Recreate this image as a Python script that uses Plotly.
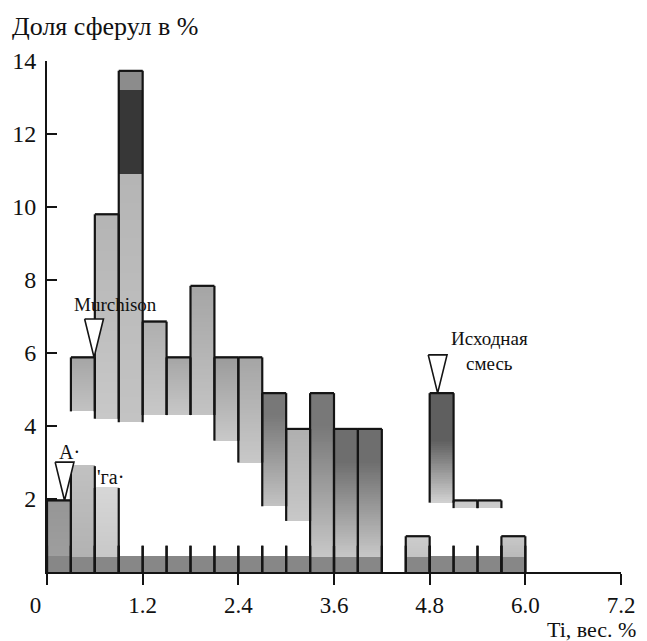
import plotly.graph_objects as go

# ---------------- data ----------------
bin_left = [0.0, 0.3, 0.6, 0.9, 1.2, 1.5, 1.8, 2.1, 2.4, 2.7,
            3.0, 3.3, 3.6, 3.9, 4.2, 4.5, 4.8, 5.1, 5.4, 5.7]
share_pct = [1.96, 5.88, 9.80, 13.73, 6.86, 5.88, 7.84, 5.88, 5.88, 4.90,
             3.92, 4.90, 3.92, 3.92, 0.0, 0.98, 4.90, 1.96, 1.96, 0.98]
bin_width = 0.3

x_tick_vals = [0, 1.2, 2.4, 3.6, 4.8, 6.0, 7.2]
x_tick_text = ["0\u2007\u2007", "1.2", "2.4", "3.6", "4.8", "6.0", "7.2"]
y_tick_vals = [2, 4, 6, 8, 10, 12, 14]

pointer_x = [0.22, 0.59, 4.90]
pointer_y = [1.96, 5.88, 4.90]

# ---------------- style (shading of the scanned bars) ----------------
fade_level = [0.0, 4.4, 4.2, 4.1, 4.3, 4.3, 4.3, 3.6, 3.0, 1.8,
              1.4, 0.4, 0.4, 0.4, 0.0, 0.4, 1.9, 1.75, 1.75, 0.4]
top_gray = [150, 165, 180, 175, 175, 165, 165, 155, 165, 120,
            175, 120, 110, 110, 255, 205, 95, 200, 200, 200]
low_gray = [160, 195, 200, 195, 200, 200, 195, 200, 200, 195,
            200, 200, 200, 200, 255, 195, 210, 205, 205, 185]
hold_depth = [0, 0, 0, 0, 0, 0, 0, 0, 0, 0.6,
              0, 0.9, 0.9, 0.9, 0, 0, 1.3, 0, 0, 0]
lower_top = [0, 2.9, 2.3, 0, 0, 0, 0, 0, 0, 0, 0, 0, 0, 0, 0, 0, 0, 0, 0, 0]
lower_gray = [0, 178, 200, 0, 0, 0, 0, 0, 0, 0, 0, 0, 0, 0, 0, 0, 0, 0, 0, 0]
overlay_bin = [3, 3]
overlay_lo = [10.9, 13.2]
overlay_hi = [13.2, 13.73]
overlay_gray = [55, 140]
band_top = 0.4
band_gray = 135
divider_top = 0.72

FONT = "Liberation Serif"
STEP = 0.05


def g(v):
    v = int(round(max(0, min(255, v))))
    return f"rgb({v},{v},{v})"


xs, bs, hs, cs = [], [], [], []


def add_seg(i, y0, y1, col):
    xs.append(bin_left[i] + bin_width / 2)
    bs.append(y0)
    hs.append(y1 - y0 + 0.03)
    cs.append(col)


for i, top in enumerate(share_pct):
    if top <= 0:
        continue
    add_seg(i, 0, min(band_top, top), g(band_gray))
    if lower_top[i] > 0:
        y = band_top
        while y < lower_top[i] - 1e-9:
            y1 = min(y + STEP, lower_top[i])
            t = (y - band_top) / (lower_top[i] - band_top)
            add_seg(i, y, y1, g(lower_gray[i] + 15 * t))
            y = y1
    lo = fade_level[i]
    hold_lvl = top - hold_depth[i]
    y = lo
    while y < top - 1e-9:
        y1 = min(y + STEP, top)
        mid = (y + y1) / 2
        if mid >= hold_lvl or hold_lvl <= lo:
            t = 0.0
        else:
            t = (hold_lvl - mid) / (hold_lvl - lo)
        add_seg(i, y, y1, g(top_gray[i] + (low_gray[i] - top_gray[i]) * t))
        y = y1
    if i == 0:
        add_seg(i, 0, band_top, g(band_gray))

for k, i in enumerate(overlay_bin):
    add_seg(i, overlay_lo[k], overlay_hi[k] - 0.03, g(overlay_gray[k]))

fig = go.Figure()
fig.add_trace(go.Bar(
    x=xs, y=hs, base=bs, width=bin_width,
    marker=dict(color=cs, line=dict(width=0)),
    hoverinfo="skip", showlegend=False,
))

# outlines
ox, oy = [], []
for i, top in enumerate(share_pct):
    if top <= 0:
        continue
    l, r = bin_left[i], bin_left[i] + bin_width
    ox += [l, r, None]
    oy += [top, top, None]
    lo = fade_level[i] if fade_level[i] > band_top else 0.0
    for e in (l, r):
        ox += [e, e, None]
        oy += [lo, top, None]
        ox += [e, e, None]
        oy += [0, min(divider_top, top), None]
        if lower_top[i] > 0:
            ox += [e, e, None]
            oy += [0, lower_top[i], None]
fig.add_trace(go.Scatter(
    x=ox, y=oy, mode="lines", line=dict(color="#141414", width=2.2),
    hoverinfo="skip", showlegend=False,
))

# pointer triangles
tri_hw, tri_h = 0.118, 1.05
for px, py in zip(pointer_x, pointer_y):
    fig.add_trace(go.Scatter(
        x=[px - tri_hw, px + tri_hw, px, px - tri_hw],
        y=[py + tri_h, py + tri_h, py, py + tri_h],
        mode="lines", fill="toself", fillcolor="white",
        line=dict(color="#141414", width=1.6),
        hoverinfo="skip", showlegend=False,
    ))

ann_font = dict(family=FONT, size=19, color="#111")
fig.add_annotation(x=0.86, y=7.32, text="Murchison", showarrow=False, font=ann_font)
fig.add_annotation(x=5.55, y=6.05, text="Исходная<br>смесь", showarrow=False, font=ann_font)
fig.add_annotation(x=0.28, y=3.3, text="A·", showarrow=False, font=dict(family=FONT, size=20, color="#111"))
fig.add_annotation(x=0.80, y=2.6, text="'га·", showarrow=False, font=dict(family=FONT, size=20, color="#111"))

W, H = 647, 641
ML, MR, MT, MB = 45, 20, 61, 69
PW, PH = W - ML - MR, H - MT - MB

fig.add_annotation(
    xref="paper", yref="paper",
    x=(644 - ML) / PW, y=-(629 - (H - MB)) / PH,
    text="Ti, вес. %", showarrow=False, xanchor="right", yanchor="middle",
    font=dict(family=FONT, size=22, color="#111"),
)

fig.update_layout(
    width=W, height=H,
    margin=dict(l=ML, r=MR, t=MT, b=MB, pad=0),
    paper_bgcolor="white", plot_bgcolor="white",
    barmode="overlay", bargap=0,
    title=dict(text="Доля сферул в %", x=12 / W, xanchor="left",
               y=1 - 26 / H, yanchor="middle",
               font=dict(family=FONT, size=26, color="#111")),
    font=dict(family=FONT, color="#111"),
)
fig.update_xaxes(
    range=[0, 7.2], showgrid=False, zeroline=False,
    showline=True, linecolor="#141414", linewidth=2,
    ticks="outside", ticklen=11, tickwidth=2, tickcolor="#141414",
    tickvals=x_tick_vals, ticktext=x_tick_text,
    tickfont=dict(family=FONT, size=23, color="#111"),
)
fig.update_yaxes(
    range=[0, 14], showgrid=False, zeroline=False,
    showline=True, linecolor="#141414", linewidth=2,
    ticks="inside", ticklen=10, tickwidth=2, tickcolor="#141414",
    tickvals=y_tick_vals,
    tickfont=dict(family=FONT, size=24, color="#111"),
    ticklabelstandoff=4,
)

fig.write_html("out.html")
